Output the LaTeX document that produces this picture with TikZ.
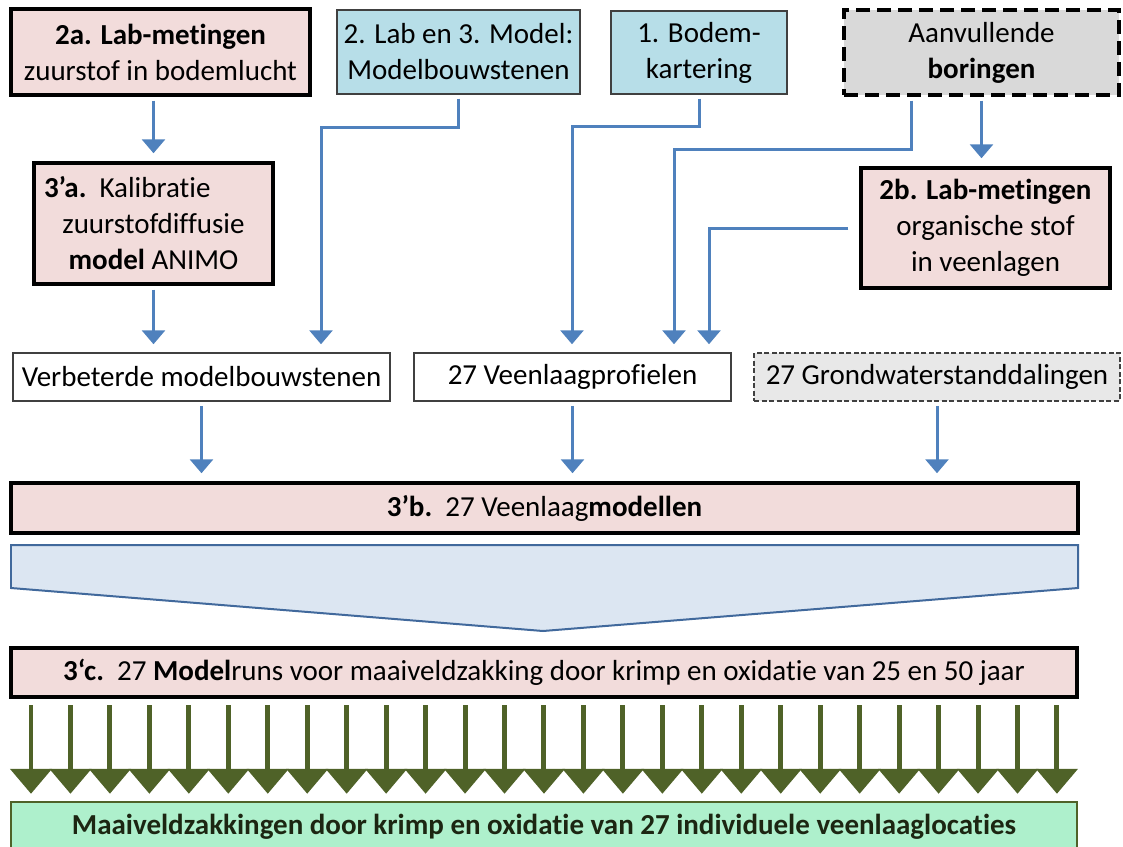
\documentclass[tikz,border=0pt]{standalone}
\usepackage{fontspec}
\setmainfont{Carlito}[Ligatures=NoCommon]
\usepackage{xcolor}
\usetikzlibrary{arrows.meta,calc}

\definecolor{labpink}{HTML}{F2DCDB}
\definecolor{infoblue}{HTML}{B7DEE8}
\definecolor{extragray}{HTML}{D9D9D9}
\definecolor{lightgray}{HTML}{E8E8E8}
\definecolor{framegray}{HTML}{404040}
\definecolor{arrowblue}{HTML}{4F81BD}
\definecolor{funnelfill}{HTML}{DCE6F2}
\definecolor{funnelline}{HTML}{41699C}
\definecolor{runsgreen}{HTML}{4F6228}
\definecolor{resultfill}{HTML}{AEF0CC}
\definecolor{resulttext}{HTML}{1C2612}

\begin{document}
\begin{tikzpicture}[x=0.02cm, y=-0.02cm,
  every node/.style={font=\fontsize{16.5}{20.5}\selectfont, align=center, inner sep=0pt},
  labbox/.style={draw=black, line width=0.07cm, fill=labpink},
  infobox/.style={draw=framegray, line width=0.03cm, fill=infoblue},
  extrabox/.style={draw=black, line width=0.07cm, dash pattern=on 0.28cm off 0.14cm, fill=extragray},
  outbox/.style={draw=framegray, line width=0.03cm, fill=white},
  arr/.style={draw=arrowblue, line width=0.06cm, -{Triangle[width=0.46cm,length=0.28cm]},
    shorten <=0.08cm, shorten >=0.16cm},
  runarr/.style={draw=runsgreen, line width=0.1cm, -{Triangle[width=0.82cm,length=0.5cm]},
    shorten >=0.14cm}]
\useasboundingbox (0,0) rectangle (1123,846);

%--- Top row: inputs ---
\node[labbox, minimum width=5.98cm, minimum height=1.72cm] (lab2a) at (160.5,52)
  {\textbf{2a. Lab-metingen}\\zuurstof in bodemlucht};
\node[infobox, minimum width=4.86cm, minimum height=1.68cm] (bouwsteen) at (458.5,52)
  {2. Lab en 3. Model:\\Modelbouwstenen};
\node[infobox, minimum width=3.52cm, minimum height=1.66cm] (kartering) at (699,52.5)
  {1. Bodem-\\kartering};
\node[extrabox, minimum width=5.5cm, minimum height=1.7cm] (boring) at (981.5,52.5)
  {Aanvullende\\\textbf{boringen}};

%--- Second row ---
\node[labbox, minimum width=4.78cm, minimum height=2.42cm] (kalibratie) at (153.5,223.5)
  {\textbf{3’a.}\ \ Kalibratie\hspace*{1.05cm}\\zuurstofdiffusie\\\textbf{model} ANIMO};
\node[labbox, minimum width=4.98cm, minimum height=2.4cm] (lab2b) at (985.5,228)
  {\textbf{2b. Lab-metingen}\\organische stof\\in veenlagen};

%--- Intermediate products ---
\node[outbox, minimum width=7.54cm, minimum height=0.96cm] (verbeterd) at (201.5,377)
  {Verbeterde modelbouwstenen};
\node[outbox, minimum width=6.34cm, minimum height=0.96cm] (profielen) at (572.5,377)
  {27 Veenlaagprofielen};
\node[outbox, fill=lightgray, dash pattern=on 0.1cm off 0.05cm, minimum width=7.32cm,
  minimum height=0.96cm] (grondwater) at (937,377) {27 Grondwaterstanddalingen};

%--- Models and runs ---
\node[labbox, minimum width=21.34cm, minimum height=1cm] (veenmodel) at (544.5,508)
  {\textbf{3’b.}\ \ 27 Veenlaag\textbf{modellen}};
\filldraw[fill=funnelfill, draw=funnelline, line width=0.04cm]
  (11,545) -- (1078,545) -- (1078,588) -- (543,631) -- (11,588) -- cycle;
\node[labbox, minimum width=21.32cm, minimum height=0.98cm] (modelruns) at (544,672.5)
  {\textbf{3‘c.}\ \ 27 \textbf{Model}runs voor maaiveldzakking door krimp en oxidatie van 25 en 50 jaar};
\node[draw=runsgreen, line width=0.05cm, fill=resultfill, text=resulttext,
  minimum width=21.32cm, minimum height=1cm] (zakking) at (544,827)
  {\textbf{Maaiveldzakkingen door krimp en oxidatie van 27 individuele veenlaaglocaties}};

% Bends of the connectors
\coordinate (k1) at (321,127);
\coordinate (k2) at (572,126);
\coordinate (k3) at (674,149);
\coordinate (k4) at (709,228);

% Blue connectors
\draw[arr] (lab2a.south -| kalibratie.north) -- (kalibratie.north);
\draw[arr] (kalibratie.south) -- (kalibratie.south |- verbeterd.north);
\draw[arr] (bouwsteen.south) |- (k1) -- (k1 |- verbeterd.north);
\draw[arr] (kartering.south) |- (k2) -- (k2 |- profielen.north);
\draw[arr] ($(boring.south)+(-70,0)$) |- (k3) -- (k3 |- profielen.north);
\draw[arr] (boring.south) -- (boring.south |- lab2b.north);
\draw[arr, shorten <=0.22cm] (lab2b.west) -- (k4) -- (k4 |- profielen.north);
\draw[arr] (verbeterd.south) -- (verbeterd.south |- veenmodel.north);
\draw[arr] (profielen.south) -- (profielen.south |- veenmodel.north);
\draw[arr] (grondwater.south) -- (grondwater.south |- veenmodel.north);

% 27 model runs
\foreach \i in {0,...,26} {
  \coordinate (g\i) at ({31+39.46*\i},705);
  \draw[runarr] (g\i) -- (g\i |- zakking.north);
}
\end{tikzpicture}
\end{document}
